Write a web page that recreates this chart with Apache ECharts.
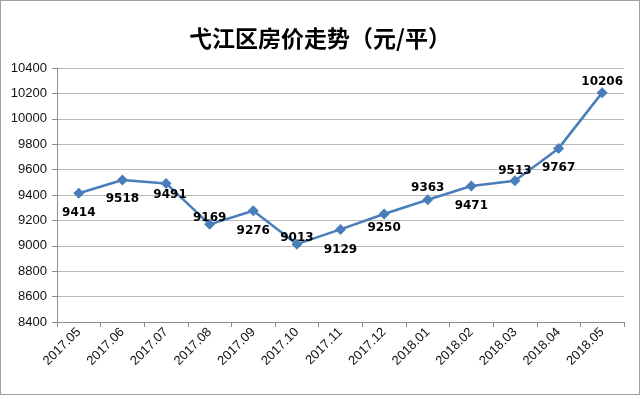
<!DOCTYPE html>
<html>
<head>
<meta charset="utf-8">
<script src="https://cdn.jsdelivr.net/npm/echarts@6/dist/echarts.min.js"></script>
<style>
html,body{margin:0;padding:0;background:#fff;}
#c{width:638px;height:393px;border:1px solid #a0a0a0;}
</style>
</head>
<body>
<div id="c"></div>
<script>
const categories = ['2017.05','2017.06','2017.07','2017.08','2017.09','2017.10','2017.11','2017.12','2018.01','2018.02','2018.03','2018.04','2018.05'];
const prices = [9414, 9518, 9491, 9169, 9276, 9013, 9129, 9250, 9363, 9471, 9513, 9767, 10206];
const yTicks = [8400, 8600, 8800, 9000, 9200, 9400, 9600, 9800, 10000, 10200, 10400];

// label placement per point (style)
const labelOffsets = [[0,20],[0,19],[4,11],[0,-6],[0,20],[0,-6],[0,20],[0,14],[0,-12],[0,20],[0,-10],[0,19],[0,-11]];

const chart = echarts.init(document.getElementById('c'));
chart.setOption({
  animation: false,
  title: {
    text: '弋江区房价走势（元/平）',
    left: 'center',
    top: 21,
    textStyle: {fontSize: 23, fontWeight: 'bold', color: '#000', fontFamily: 'Noto Sans CJK SC'}
  },
  grid: {left: 56, right: 15, top: 67, bottom: 72},
  xAxis: {
    type: 'category',
    data: categories,
    boundaryGap: true,
    axisLine: {lineStyle: {color: '#8c8c8c'}},
    axisTick: {show: true, alignWithLabel: false, length: 5, lineStyle: {color: '#8c8c8c'}},
    axisLabel: {rotate: 45, fontSize: 13, color: '#111', fontFamily: 'Liberation Sans', margin: 8, interval: 0}
  },
  yAxis: {
    type: 'value',
    min: yTicks[0],
    max: yTicks[yTicks.length - 1],
    interval: 200,
    axisLine: {show: true, lineStyle: {color: '#8c8c8c'}},
    axisTick: {show: true, length: 5, lineStyle: {color: '#8c8c8c'}},
    splitLine: {lineStyle: {color: '#b8b8b8'}},
    axisLabel: {fontSize: 13, color: '#111', fontFamily: 'Liberation Sans', margin: 10, formatter: v => String(v)}
  },
  series: [{
    type: 'line',
    data: prices.map((v, i) => ({value: v, label: {offset: labelOffsets[i]}})),
    symbol: 'diamond',
    symbolSize: 11,
    lineStyle: {color: '#4a7ebb', width: 2.5},
    itemStyle: {color: '#4a7ebb'},
    label: {
      show: true,
      position: 'inside',
      fontSize: 12,
      fontWeight: 'bold',
      color: '#000',
      fontFamily: 'DejaVu Sans'
    }
  }]
});
</script>
</body>
</html>
